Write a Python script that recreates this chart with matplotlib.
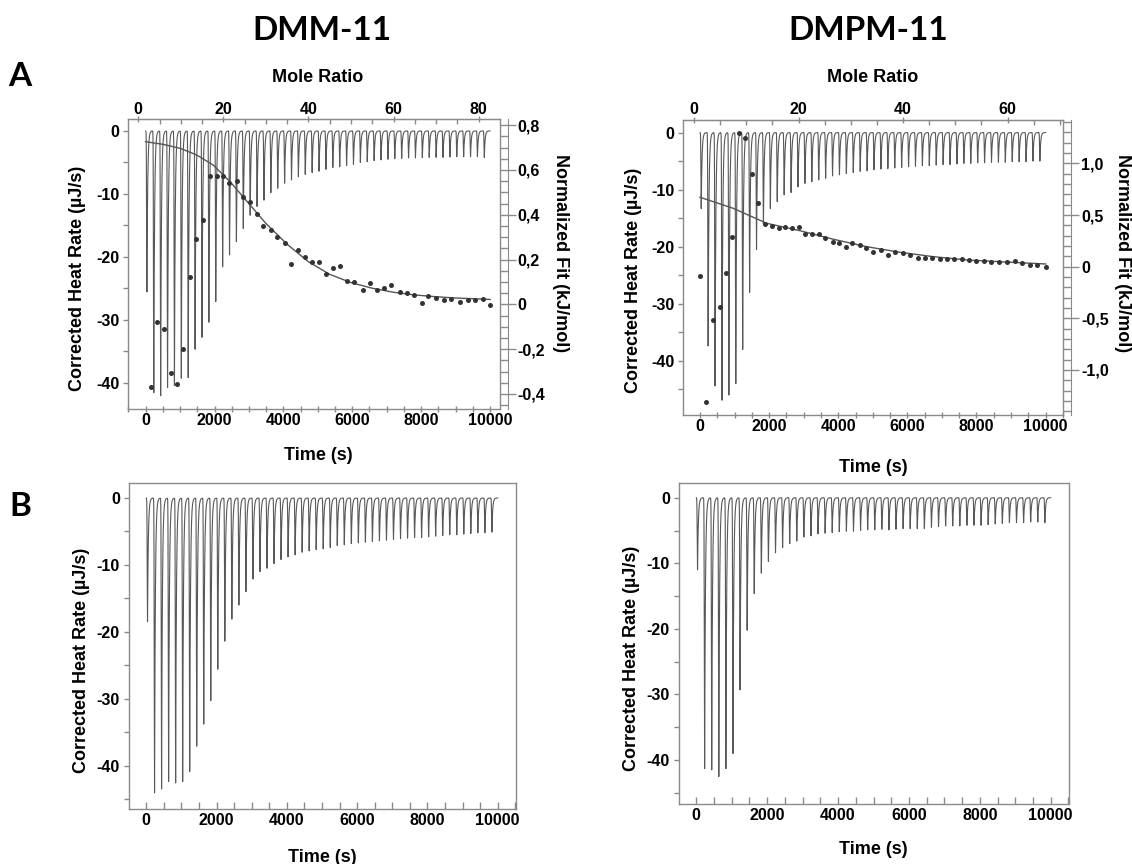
import matplotlib
matplotlib.use("Agg")
import matplotlib.pyplot as plt
import numpy as np
from matplotlib.ticker import MultipleLocator, FuncFormatter

plt.rcParams["font.family"] = ["Liberation Sans", "DejaVu Sans"]
plt.rcParams["font.weight"] = "bold"
plt.rcParams["axes.unicode_minus"] = False

# injection schedule (s)
INJ_START = 25
INJ_STEP = 200

# peak minima of each injection, corrected heat rate (uJ/s)
dmm_peaks = [-25.6, -41.6, -42.1, -40.8, -40.5, -39.3, -39.2, -34.7, -32.8, -30.4,
             -27.1, -21.6, -19.7, -17.6, -15.5, -13.4, -12.0, -11.0, -9.8, -9.1,
             -8.3, -7.8, -7.3, -6.9, -6.6, -6.4, -6.1, -5.8, -5.7, -5.5,
             -5.3, -5.0, -4.9, -4.7, -4.6, -4.5, -4.4, -4.35, -4.3, -4.3,
             -4.25, -4.2, -4.2, -4.2, -4.15, -4.1, -4.1, -4.1, -4.1, -4.2]
dmpm_peaks = [-13.3, -37.4, -44.4, -46.9, -46.0, -44.0, -38.0, -28.0, -20.5, -16.0,
              -13.3, -12.1, -10.9, -10.5, -9.5, -8.9, -8.6, -8.3, -8.0, -7.6,
              -7.4, -7.2, -7.0, -6.8, -6.7, -6.5, -6.4, -6.3, -6.2, -6.1,
              -6.0, -5.9, -5.8, -5.8, -5.7, -5.6, -5.6, -5.5, -5.4, -5.4,
              -5.3, -5.3, -5.2, -5.2, -5.2, -5.1, -5.1, -5.1, -5.0, -5.0]
dmm_blank_peaks = [-18.5, -44.1, -43.5, -42.4, -42.6, -42.4, -40.9, -37.1, -33.8, -30.3,
                   -25.6, -21.4, -18.1, -16.0, -14.0, -12.1, -11.0, -10.5, -9.8, -9.2,
                   -8.8, -8.5, -8.1, -7.9, -7.7, -7.6, -7.4, -7.1, -7.0, -6.8,
                   -6.7, -6.6, -6.5, -6.4, -6.3, -6.2, -6.1, -6.0, -5.9, -5.9,
                   -5.8, -5.7, -5.6, -5.5, -5.5, -5.4, -5.3, -5.2, -5.2, -5.1]
dmpm_blank_peaks = [-11.0, -41.3, -41.5, -42.5, -41.3, -39.0, -29.3, -20.2, -14.6, -11.5,
                    -9.7, -8.4, -7.6, -7.0, -6.6, -6.0, -5.8, -5.5, -5.4, -5.3,
                    -5.2, -5.1, -5.1, -5.0, -4.9, -4.9, -4.8, -4.9, -4.8, -4.7,
                    -4.7, -4.7, -4.7, -4.5, -4.4, -4.3, -4.3, -4.3, -4.2, -4.2,
                    -4.2, -4.1, -4.0, -3.9, -3.8, -3.8, -3.8, -3.7, -3.7, -3.8]

# integrated heats vs mole ratio (kJ/mol)
dmm_ratio = [2.9, 4.5, 6.1, 7.7, 9.0, 10.5, 12.1, 13.6, 15.2, 16.8,
             18.4, 20.0, 21.4, 23.1, 24.5, 26.3, 27.9, 29.4, 31.1, 32.7,
             34.4, 35.8, 37.5, 39.1, 40.8, 42.4, 44.2, 45.8, 47.5, 49.1,
             50.7, 52.7, 54.4, 56.1, 57.7, 59.4, 61.4, 63.1, 64.7, 66.6,
             68.2, 70.0, 71.9, 73.6, 75.5, 77.4, 79.1, 81.0, 82.7]
dmm_heat = [-0.368, -0.080, -0.109, -0.308, -0.356, -0.198, 0.121, 0.293, 0.375, 0.571,
            0.571, 0.571, 0.543, 0.549, 0.479, 0.458, 0.403, 0.351, 0.332, 0.302,
            0.275, 0.180, 0.242, 0.210, 0.187, 0.190, 0.134, 0.161, 0.171, 0.103,
            0.101, 0.065, 0.094, 0.064, 0.073, 0.085, 0.055, 0.049, 0.040, 0.007,
            0.036, 0.030, 0.019, 0.022, 0.009, 0.019, 0.019, 0.022, -0.001]
dmm_fit_ratio = [1.7, 5.9, 9.9, 13.7, 17.6, 21.6, 26.3, 30, 35, 40, 45, 50,
                 55, 60, 65, 70, 75, 82.7]
dmm_fit = [0.726, 0.714, 0.696, 0.667, 0.622, 0.547, 0.443, 0.361, 0.268, 0.190,
           0.134, 0.097, 0.072, 0.054, 0.042, 0.034, 0.028, 0.022]

dmpm_ratio = [1.15, 2.3, 3.7, 5.0, 6.1, 7.3, 8.6, 9.8, 11.0, 12.3,
              13.6, 14.9, 16.2, 17.5, 18.8, 20.0, 21.3, 22.6, 23.9, 25.1,
              26.5, 27.8, 29.0, 30.3, 31.7, 32.9, 34.3, 35.7, 37.1, 38.5,
              40.0, 41.4, 42.8, 44.2, 45.6, 47.0, 48.4, 49.8, 51.2, 52.6,
              54.0, 55.4, 56.8, 58.4, 59.9, 61.4, 62.8, 64.2, 65.7, 67.3]
dmpm_heat = [-0.087, -1.307, -0.513, -0.387, -0.058, 0.284, 1.297, 1.243, 0.894, 0.614,
             0.410, 0.397, 0.371, 0.381, 0.371, 0.387, 0.313, 0.313, 0.316, 0.274,
             0.242, 0.232, 0.187, 0.226, 0.210, 0.184, 0.145, 0.162, 0.113, 0.139,
             0.135, 0.113, 0.087, 0.087, 0.087, 0.075, 0.072, 0.072, 0.075, 0.065,
             0.058, 0.055, 0.045, 0.042, 0.048, 0.052, 0.033, 0.019, 0.013, 0.000]
dmpm_fit_ratio = [1.15, 7.5, 13.9, 20.3, 26.7, 33.0, 39.4, 45.8, 52.2, 58.6, 67.3]
dmpm_fit = [0.672, 0.565, 0.420, 0.348, 0.265, 0.194, 0.139, 0.097, 0.065, 0.048, 0.026]

FRAME = "#8a8a8a"
TRACE = "#585858"
TICK_FS = 11.5
LABEL_FS = 13
W, H = 1132, 864


def comma(v, pos):
    if abs(v) < 1e-9:
        return "0"
    return ("%.1f" % v).replace(".", ",")


def thermogram(peaks):
    t = np.arange(0, 10001, 1.0)
    y = np.zeros_like(t)
    for i, d in enumerate(peaks):
        dt = t - (INJ_START + INJ_STEP * i + 10)
        y += d * np.where(dt < 0, np.exp(-(dt / 12.0) ** 2),
                          np.exp(-np.clip(dt, 0, None) / 22.0))
    return t, y


def px_axes(x0, y0, x1, y1):
    return [x0 / W, 1 - y1 / H, (x1 - x0) / W, (y1 - y0) / H]


def ftext(x, y, s, **kw):
    fig.text(x / W, 1 - y / H, s, ha="center", va="center", **kw)


def heat_axes(pos, peaks, xlim, ylim, boxed_ticks):
    ax = fig.add_axes(pos)
    t, y = thermogram(peaks)
    ax.plot(t, y, color=TRACE, lw=0.8)
    ax.set_xlim(xlim)
    ax.set_ylim(ylim)
    for s in ax.spines.values():
        s.set_color(FRAME)
        s.set_linewidth(1.0)
    ax.xaxis.set_major_locator(MultipleLocator(2000))
    ax.xaxis.set_minor_locator(MultipleLocator(500))
    ax.yaxis.set_major_locator(MultipleLocator(10))
    ax.yaxis.set_minor_locator(MultipleLocator(5))
    ax.xaxis.set_ticks_position("bottom")
    ax.yaxis.set_ticks_position("left")
    ax.tick_params(which="both", colors=FRAME, labelcolor="black", labelsize=TICK_FS, width=1)
    ax.tick_params(axis="y", which="both", direction="out", length=3.5, pad=3)
    if boxed_ticks:
        ax.tick_params(axis="x", which="both", direction="inout", length=4, pad=1)
    else:
        ax.tick_params(axis="x", which="both", direction="in", length=5, pad=3)
    return ax


def fit_axes(pos, ratio, heat, fit_ratio, fit, xlim, ylim, major, minor):
    ax2 = fig.add_axes(pos)
    ax2.patch.set_visible(False)
    ax2.plot(fit_ratio, fit, color="#555555", lw=1.0)
    ax2.plot(ratio, heat, "o", color="#333333", ms=3.6, mew=0)
    ax2.set_xlim(xlim)
    ax2.set_ylim(ylim)
    ax2.spines["left"].set_visible(False)
    ax2.spines["bottom"].set_visible(False)
    ax2.spines["top"].set_color(FRAME)
    ax2.spines["right"].set_color(FRAME)
    ax2.spines["right"].set_position(("outward", 6))
    ax2.xaxis.set_ticks_position("top")
    ax2.yaxis.set_ticks_position("right")
    ax2.xaxis.set_major_locator(MultipleLocator(20))
    ax2.xaxis.set_minor_locator(MultipleLocator(5))
    ax2.yaxis.set_major_locator(MultipleLocator(major))
    ax2.yaxis.set_minor_locator(MultipleLocator(minor))
    ax2.yaxis.set_major_formatter(FuncFormatter(comma))
    ax2.tick_params(which="both", colors=FRAME, labelcolor="black", labelsize=TICK_FS, width=1)
    ax2.tick_params(axis="x", which="minor", direction="in", length=3.5)
    ax2.tick_params(axis="x", which="major", direction="inout", length=4, pad=0)
    ax2.tick_params(axis="y", which="minor", direction="in", length=6)
    ax2.tick_params(axis="y", which="major", direction="inout", length=12, pad=1)
    return ax2


fig = plt.figure(figsize=(W / 100, H / 100), dpi=100)

# A: raw titrations with integrated heats
pos = px_axes(128.3, 119.3, 499.5, 409)
heat_axes(pos, dmm_peaks, (-505, 10276), (-44.2, 1.85), True)
fit_axes(pos, dmm_ratio, dmm_heat, dmm_fit_ratio, dmm_fit,
         (-2.35, 84.9), (-0.467, 0.826), 0.2, 0.05)

pos = px_axes(683.3, 120, 1063, 415)
heat_axes(pos, dmpm_peaks, (-484, 10504), (-49.5, 2.2), True)
fit_axes(pos, dmpm_ratio, dmpm_heat, dmpm_fit_ratio, dmpm_fit,
         (-2.05, 70.6), (-1.436, 1.42), 0.5, 0.1)

# B: blank titrations
heat_axes(px_axes(129, 483.3, 516, 809), dmm_blank_peaks, (-492, 10521), (-46.5, 2.2), False)
heat_axes(px_axes(679, 483.3, 1069, 804), dmpm_blank_peaks, (-488, 10516), (-46.7, 2.2), False)

title_font = dict(family=["Lato", "DejaVu Sans"], fontweight="bold", fontsize=24)
ftext(322, 30, "DMM-11", **title_font)
ftext(868, 30, "DMPM-11", **title_font)
ftext(20, 77, "A", **title_font)
ftext(20, 507, "B", **title_font)

lab = dict(fontsize=LABEL_FS, fontweight="bold")
ftext(318, 77, "Mole Ratio", **lab)
ftext(873, 77, "Mole Ratio", **lab)
ftext(318, 456, "Time (s)", **lab)
ftext(873, 467, "Time (s)", **lab)
ftext(322, 857, "Time (s)", **lab)
ftext(873, 850, "Time (s)", **lab)
ftext(77, 278, "Corrected Heat Rate (µJ/s)", rotation=90, **lab)
ftext(633, 280, "Corrected Heat Rate (µJ/s)", rotation=90, **lab)
ftext(82, 660, "Corrected Heat Rate (µJ/s)", rotation=90, **lab)
ftext(632, 658, "Corrected Heat Rate (µJ/s)", rotation=90, **lab)
ftext(560, 253, "Normalized Fit (kJ/mol)", rotation=270, **lab)
ftext(1123, 253, "Normalized Fit (kJ/mol)", rotation=270, **lab)

fig.savefig("out.png", dpi=100)
